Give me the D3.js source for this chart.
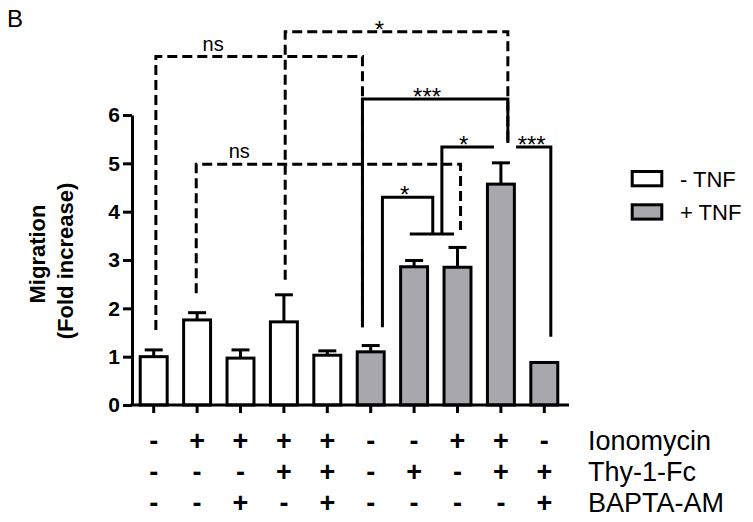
<!DOCTYPE html>
<html>
<head>
<meta charset="utf-8">
<script src="https://cdn.jsdelivr.net/npm/d3@7"></script>
<style>
   body { margin: 0; background: #fff; }
   svg { font-family: "Liberation Sans", Arial, sans-serif; }
</style>
</head>
<body>
<svg id="chart" width="753" height="522"></svg>
<script>
// bar data (fold increase)
var groups = ["g1", "g2", "g3", "g4", "g5", "g6", "g7", "g8", "g9", "g10"];
var values = [1.0, 1.76, 0.97, 1.72, 1.03, 1.1, 2.86, 2.85, 4.57, 0.88];
var errors = [0.14, 0.15, 0.17, 0.56, 0.09, 0.13, 0.13, 0.41, 0.44, 0.0];
var tnf = [0, 0, 0, 0, 0, 1, 1, 1, 1, 1];

// treatment table under the axis
var rowLabels = ["Ionomycin", "Thy-1-Fc", "BAPTA-AM"];
var ionomycin = ["-", "+", "+", "+", "+", "-", "-", "+", "+", "-"];
var thy1fc = ["-", "-", "-", "+", "+", "-", "+", "-", "+", "+"];
var bapta = ["-", "-", "+", "-", "+", "-", "-", "-", "-", "+"];

var yTicks = [0, 1, 2, 3, 4, 5, 6];
var legendLabels = ["- TNF", "+ TNF"];

// significance brackets: ends in bar-index units, heights in fold units
var brackets = [
   { x: [0.05, 4.81], level: 7.21, legs: [1.55, 1.61], label: "ns", at: 1.37, dashed: true },
   { x: [3.03, 8.16], level: 7.72, legs: [2.59, 5.42], label: "*", at: 5.2, dashed: true },
   { x: [0.98, 7.07], level: 4.98, legs: [2.31, 3.62], label: "ns", at: 1.97, dashed: true },
   { x: [4.81, 8.16], level: 6.33, legs: [1.61, 5.42], label: "***", at: 6.3, dashed: false },
   { x: [5.27, 6.43], level: 4.3, legs: [1.61, 3.54], label: "*", at: 5.78, dashed: false },
   { x: [6.64, 7.84], level: 5.34, legs: [3.54, null], label: "*", at: 7.14, dashed: false },
   { x: [8.35, 9.15], level: 5.34, legs: [null, 1.41], label: "***", at: 8.71, dashed: false },
   { x: [5.9, 6.92], level: 3.54, legs: [null, null], label: "", at: 0, dashed: false },
];

var grey = "#a8a7ad";

var svg = d3.select("svg#chart");

//Scales
var x = d3
   .scaleBand()
   .domain(groups)
   .range([132, 566])
   .paddingInner(0.31)
   .paddingOuter(0.155);

var y = d3.scaleLinear().domain([0, 6]).range([405, 115]);

var bw = x.bandwidth();
var xi = d3
   .scaleLinear()
   .domain([0, groups.length - 1])
   .range([x(groups[0]) + bw / 2, x(groups[groups.length - 1]) + bw / 2]);

// panel letter
svg.append("text")
   .attr("x", 7)
   .attr("y", 27)
   .attr("font-size", 24)
   .text("B");

//Brackets (dashed first, solid on top)
var bracketGroup = svg.append("g")
   .attr("fill", "none")
   .attr("stroke", "#000")
   .attr("stroke-width", 3);

brackets
   .slice()
   .sort((a, b) => (b.dashed ? 1 : 0) - (a.dashed ? 1 : 0))
   .forEach(function (b) {
      var x1 = xi(b.x[0]),
         x2 = xi(b.x[1]),
         yl = y(b.level);
      var p = d3.path();
      if (b.legs[0] !== null) {
         p.moveTo(x1, y(b.legs[0]));
         p.lineTo(x1, yl);
      } else {
         p.moveTo(x1, yl);
      }
      p.lineTo(x2, yl);
      if (b.legs[1] !== null) p.lineTo(x2, y(b.legs[1]));
      bracketGroup
         .append("path")
         .attr("d", p.toString())
         .attr("stroke-dasharray", b.dashed ? "10,5" : null);

      if (b.label) {
         var isStar = b.label.indexOf("*") === 0;
         svg.append("text")
            .attr("x", xi(b.at))
            .attr("y", yl - (isStar ? -6 : 6))
            .attr("text-anchor", "middle")
            .attr("font-size", isStar ? 24 : 20)
            .text(b.label);
      }
   });

//Bars
svg.append("g")
   .selectAll("rect")
   .data(values)
   .enter()
   .append("rect")
   .attr("x", (d, i) => x(groups[i]) + 1.5)
   .attr("width", bw - 3)
   .attr("y", (d) => y(d))
   .attr("height", (d) => y(0) - y(d))
   .attr("fill", (d, i) => (tnf[i] ? grey : "#fff"))
   .attr("stroke", "#000")
   .attr("stroke-width", 3);

// error bars
var errGroup = svg.append("g")
   .attr("stroke", "#000")
   .attr("stroke-width", 3);

values.forEach(function (v, i) {
   if (!errors[i]) return;
   var cx = xi(i);
   errGroup.append("line")
      .attr("x1", cx).attr("x2", cx)
      .attr("y1", y(v)).attr("y2", y(v + errors[i]));
   errGroup.append("line")
      .attr("x1", cx - 9).attr("x2", cx + 9)
      .attr("y1", y(v + errors[i])).attr("y2", y(v + errors[i]));
});

//Axes
var yAxis = svg.append("g")
   .attr("transform", "translate(132,0)")
   .call(
      d3.axisLeft(y)
         .tickValues(yTicks)
         .tickFormat(d3.format("d"))
         .tickSize(9)
         .tickSizeOuter(0)
         .tickPadding(3)
   );

var xAxis = svg.append("g")
   .attr("transform", "translate(0,405)")
   .call(d3.axisBottom(x).tickSize(8).tickSizeOuter(0).tickFormat(""));

svg.selectAll(".domain, .tick line").attr("stroke", "#000").attr("stroke-width", 3);
xAxis.select(".domain").attr("d", "M130.5,0H569");
yAxis.selectAll(".tick text")
   .attr("font-family", "Liberation Sans, Arial, sans-serif")
   .attr("font-size", 21)
   .attr("font-weight", "bold")
   .attr("fill", "#000");

// y label
svg.append("text")
   .attr("transform", "translate(45,254) rotate(-90)")
   .attr("text-anchor", "middle")
   .attr("font-size", 22)
   .attr("font-weight", "bold")
   .text("Migration");
svg.append("text")
   .attr("transform", "translate(73,261) rotate(-90)")
   .attr("text-anchor", "middle")
   .attr("font-size", 22)
   .attr("font-weight", "bold")
   .text("(Fold increase)");

//Legend
legendLabels.forEach(function (label, i) {
   var ly = 171.5 + i * 33.3;
   svg.append("rect")
      .attr("x", 632.2)
      .attr("y", ly)
      .attr("width", 29.6)
      .attr("height", 14.3)
      .attr("fill", i ? grey : "#fff")
      .attr("stroke", "#000")
      .attr("stroke-width", 3);
   svg.append("text")
      .attr("x", 680)
      .attr("y", ly + 15.5)
      .attr("font-size", 22)
      .text(label);
});

// treatment table
var rows = [ionomycin, thy1fc, bapta];
rows.forEach(function (row, r) {
   var by = 450 + r * 31;
   svg.append("g")
      .selectAll("text")
      .data(row)
      .enter()
      .append("text")
      .attr("x", (d, i) => xi(i))
      .attr("y", by)
      .attr("text-anchor", "middle")
      .attr("font-size", 27)
      .attr("font-weight", "bold")
      .text((d) => d);
   svg.append("text")
      .attr("x", 588)
      .attr("y", by)
      .attr("font-size", 27)
      .text(rowLabels[r]);
});
</script>
</body>
</html>
